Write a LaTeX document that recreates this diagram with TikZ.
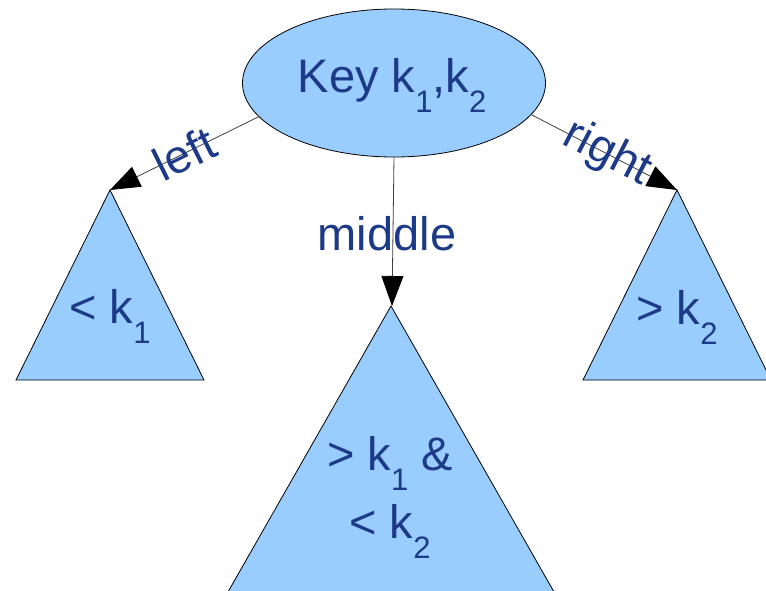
\documentclass[tikz,border=0pt]{standalone}
\usepackage{fontspec}
\setmainfont{Liberation Sans}
\usetikzlibrary{arrows.meta,shapes.geometric}
\definecolor{fillblue}{HTML}{99CCFF}
\definecolor{txtblue}{HTML}{1C3A87}
\newcommand\sbs[1]{\raisebox{-20pt}{\fontsize{31}{31}\selectfont #1}}
\tikzset{
  big/.style={font=\fontsize{47}{68}\selectfont, text=txtblue, inner sep=0pt},
  tri/.style={fill=fillblue, draw=black, line width=0.8pt, line join=miter},
  conn/.style={draw=black!75, line width=0.8pt, -{Triangle[length=30pt,width=22pt,color=black]}},
  lbl/.style={font=\fontsize{47}{56}\selectfont, text=txtblue, inner sep=0pt}
}
\begin{document}
\begin{tikzpicture}[x=1pt,y=-1pt]
\clip (0,0) rectangle (766,591);
% triangles
\coordinate (lt) at (110,190);
\coordinate (rt) at (677,190);
\coordinate (mt) at (391,306);
\path[tri] (lt) -- (16,380) -- (204,380) -- cycle;
\path[tri] (rt) -- (583,380) -- (771,380) -- cycle;
\path[tri] (mt) -- (212,620) -- (570,620) -- cycle;
% root
\node[ellipse, fill=fillblue, draw=black, line width=0.8pt, minimum width=303pt, minimum height=148pt, inner sep=0pt] (e) at (394,83) {};
\node[big, anchor=base] (key) at (392,93) {Key k\sbs{1},k\sbs{2}};
% triangle labels
\node[big, anchor=base] (lk) at (110,323) {< k\sbs{1}};
\node[big, anchor=base] (rk) at (677,324) {> k\sbs{2}};
\node[big, anchor=base, align=center] (mk) at (390,538) {> k\sbs{1} \&\\< k\sbs{2}};
% connectors
\draw[conn] (e.194) -- node[lbl, sloped, pos=0.5] {left} (lt);
\draw[conn] (e.-13) -- node[lbl, sloped, pos=0.52] {right} (rt);
\draw[conn] (e.south -| 394,0) -- (392,306);
\node[lbl, anchor=base] (ml) at (387,250) {middle};
\end{tikzpicture}
\end{document}
